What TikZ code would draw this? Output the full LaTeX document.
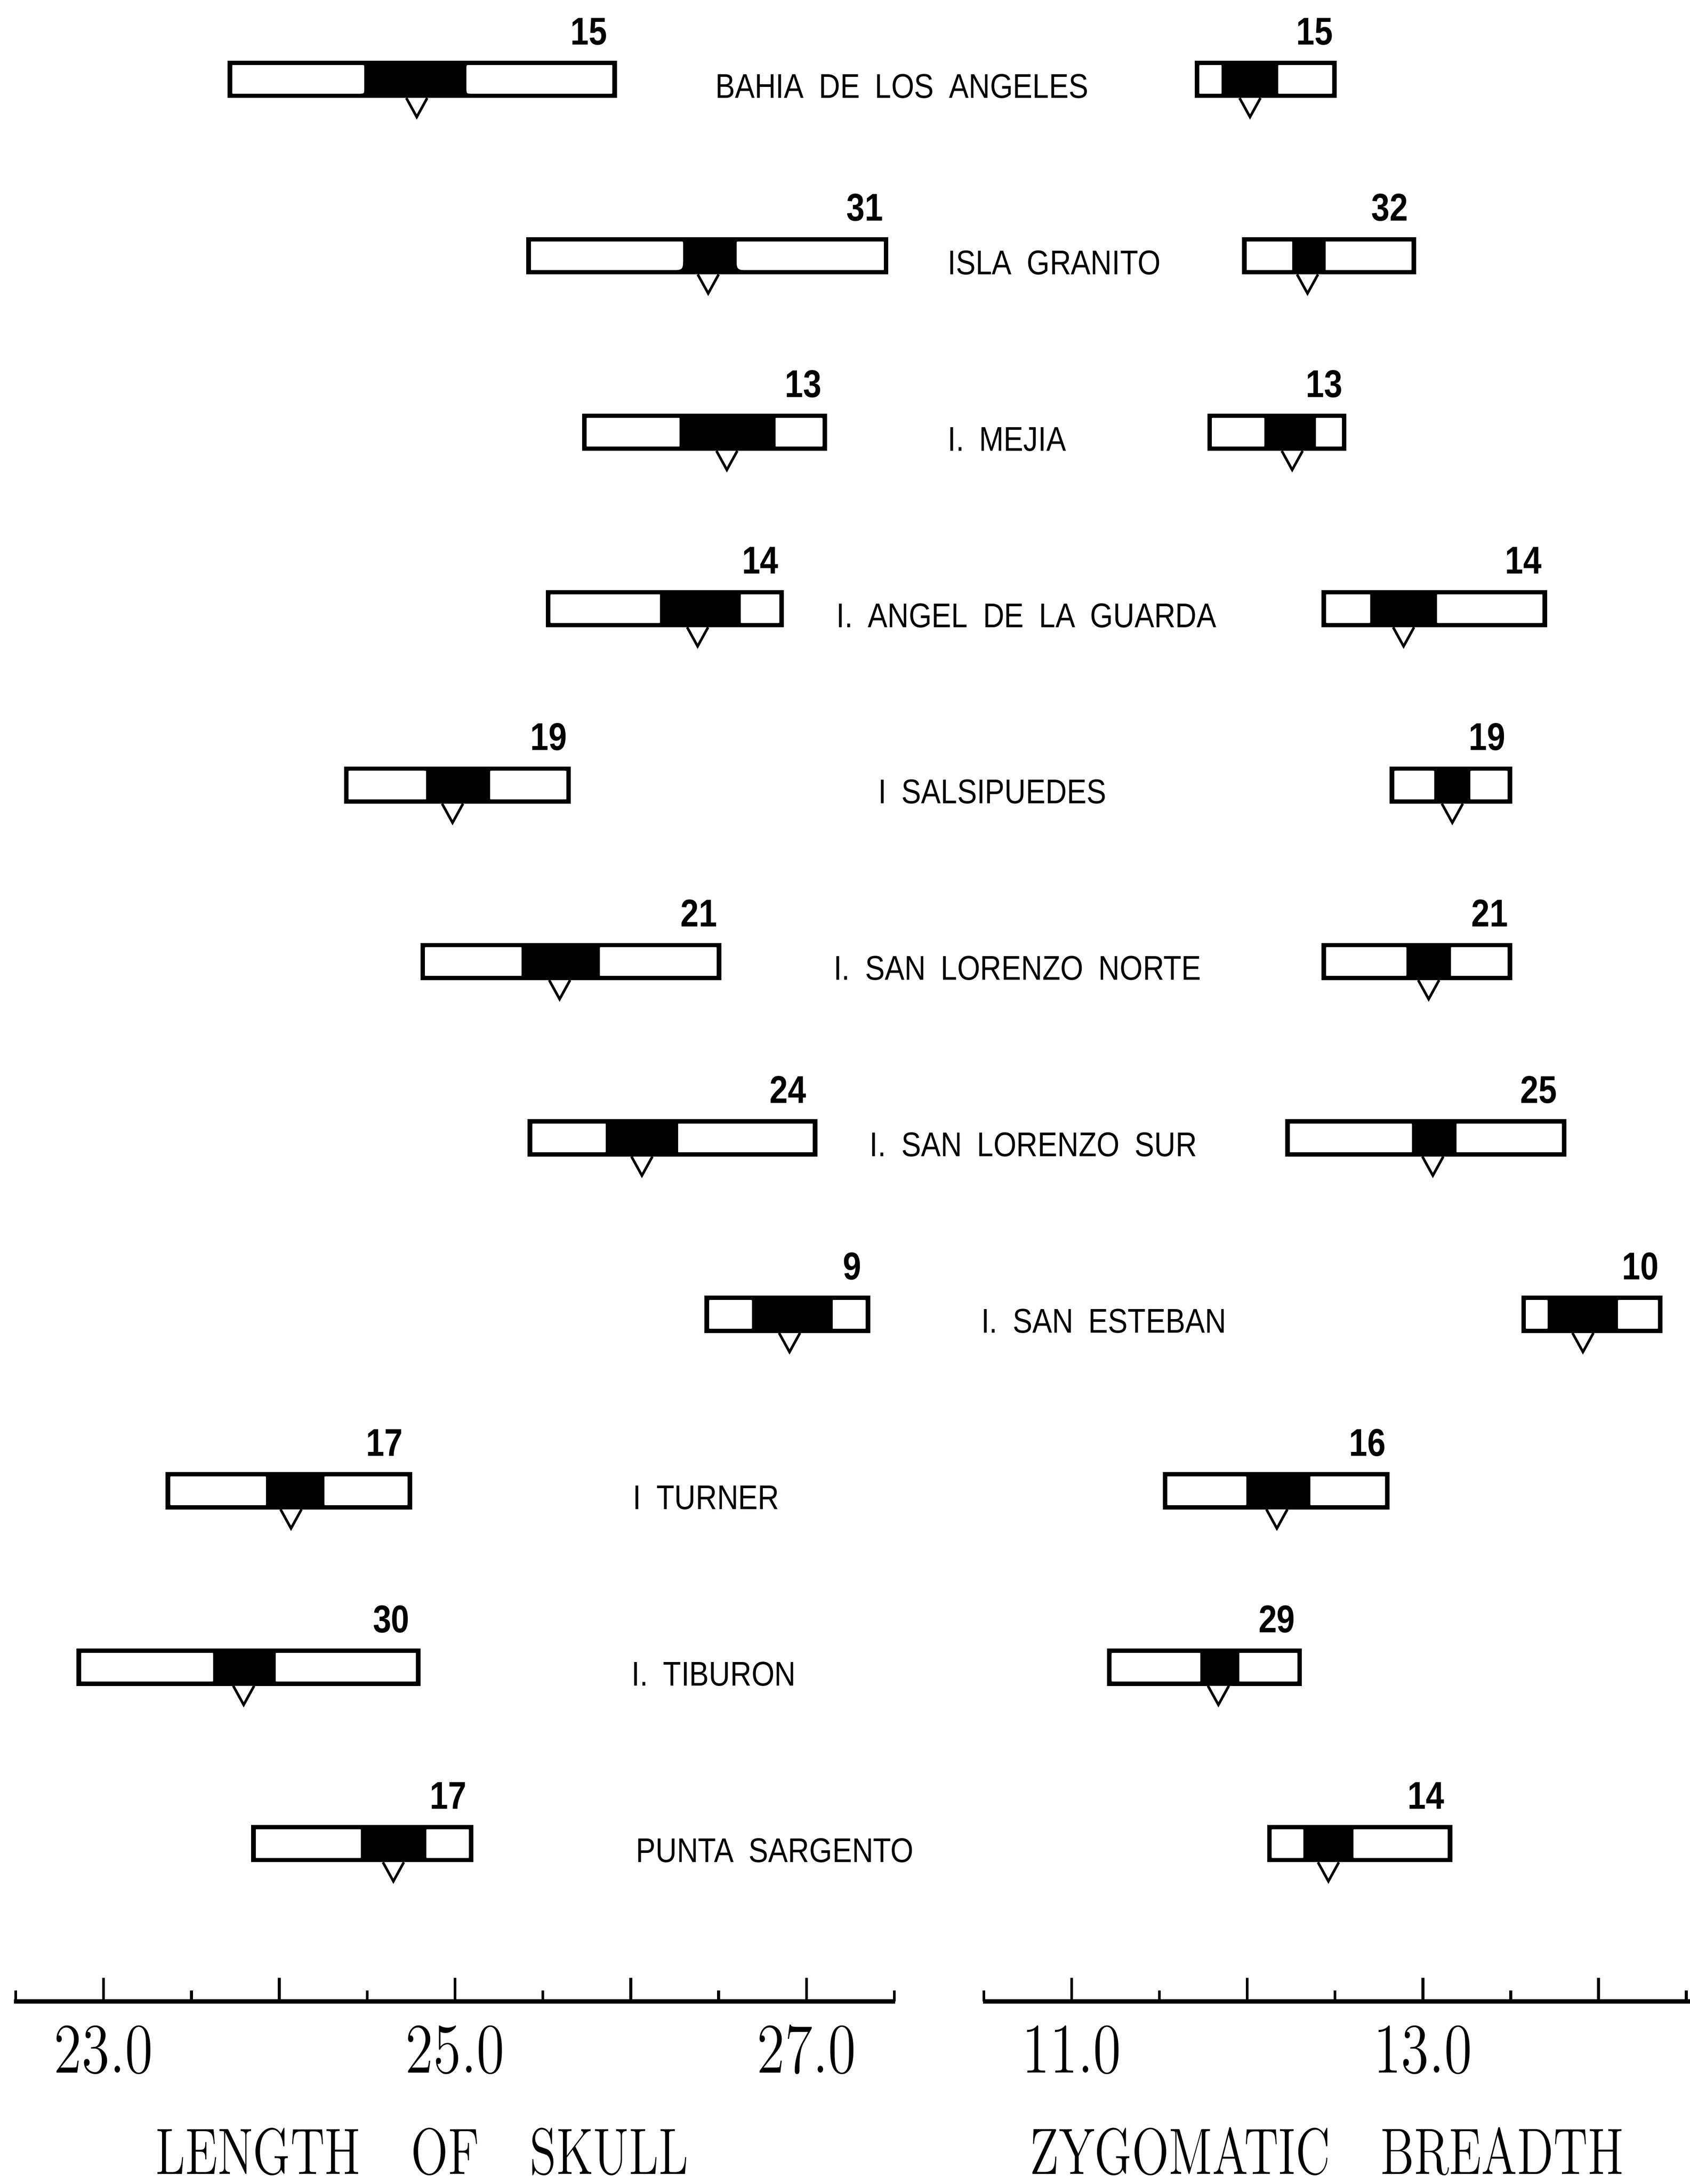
\documentclass[tikz,border=0pt]{standalone}
\usepackage{fontspec}
\usepackage{graphicx}
\newfontfamily\labfont{Liberation Sans}
% white part of a bar: xa xb ytop ybot rTL rTR rBR rBL
\newcommand\wreg[8]{\fill[white] ({#1+#5},{#3}) -- ({#2-#6},{#3}) .. controls ({#2},{#3}) .. ({#2},{#3+#6}) -- ({#2},{#4-#7}) .. controls ({#2},{#4}) .. ({#2-#7},{#4}) -- ({#1+#8},{#4}) .. controls ({#1},{#4}) .. ({#1},{#4-#8}) -- ({#1},{#3+#5}) .. controls ({#1},{#3}) .. ({#1+#5},{#3}) -- cycle;}
% bar: yc L blackL blackR R mean rtop rbot
\newcommand\skbar[8]{%
  \fill ({#2},{#1-13.4}) rectangle ({#5},{#1+13.4});
  \wreg{#2+3.3}{#3}{#1-10.3}{#1+10.3}{1}{#7}{#8}{1}
  \wreg{#4}{#5-3.3}{#1-10.3}{#1+10.3}{#7}{1}{1}{#8}
  \filldraw[fill=white,line width=0.52pt,line join=miter] ({#6-7.5},{#1+13.4}) -- ({#6},{#1+27}) -- ({#6+7.5},{#1+13.4});}
\newcommand\stn[1]{\scalebox{0.86}[1]{\labfont\fontsize{7}{8}\selectfont\spaceskip=3.6pt\relax #1}}
\newcommand\cnt[1]{\scalebox{0.85}[1]{\labfont\bfseries\fontsize{7.9}{9}\selectfont #1}}
\newcommand\axn[1]{\scalebox{0.8}[1]{\fontsize{14.5}{16}\selectfont #1}}
\newcommand\axt[1]{\scalebox{0.74}[1]{\fontsize{13.4}{15}\selectfont\spaceskip=14pt\relax #1}}
\begin{document}
\begin{tikzpicture}[x=0.01cm,y=-0.01cm,
  lab/.style={anchor=base west,inner sep=0pt},
  num/.style={anchor=base,inner sep=0pt},
  axisline/.style={line width=0.85pt},
  tick/.style={line width=0.57pt}]
\useasboundingbox (0,0) rectangle (1213.7,1568.1);
% row 1
\skbar{57}{163.5}{261.6}{335}{443}{299.3}{2}{4}
\skbar{57}{858}{877.3}{918}{960}{897.7}{1}{1}
\node[lab] (s1) at (513,70.35) {\stn{BAHIA DE LOS ANGELES}};
\node[num] (n1a) at (423,32) {\cnt{15}};
\node[num] (n1b) at (944,32) {\cnt{15}};
% row 2
\skbar{183.67}{378}{490.6}{529}{638}{508.6}{2}{9}
\skbar{183.67}{892}{928}{952}{1017}{939}{1}{1}
\node[lab] (s2) at (680,197.02) {\stn{ISLA GRANITO}};
\node[num] (n2a) at (621,158.67) {\cnt{31}};
\node[num] (n2b) at (998,158.67) {\cnt{32}};
% row 3
\skbar{310.34}{418}{488}{557}{594}{522}{1}{1}
\skbar{310.34}{867}{908}{945}{967}{928}{1}{1}
\node[lab] (s3) at (680,323.69) {\stn{I. MEJIA}};
\node[num] (n3a) at (577,285.34) {\cnt{13}};
\node[num] (n3b) at (951,285.34) {\cnt{13}};
% row 4
\skbar{437.01}{392}{474}{532}{563}{501}{1}{1}
\skbar{437.01}{949}{984}{1032}{1111}{1008}{1}{1}
\node[lab] (s4) at (600,450.36) {\stn{I. ANGEL DE LA GUARDA}};
\node[num] (n4a) at (546,412.01) {\cnt{14}};
\node[num] (n4b) at (1094,412.01) {\cnt{14}};
% row 5
\skbar{563.68}{247}{306}{352}{410}{325}{1}{1}
\skbar{563.68}{998}{1030}{1056}{1086}{1043}{1}{1}
\node[lab] (s5) at (630,577.03) {\stn{I SALSIPUEDES}};
\node[num] (n5a) at (394,538.68) {\cnt{19}};
\node[num] (n5b) at (1068,538.68) {\cnt{19}};
% row 6
\skbar{690.35}{301.9}{374.6}{430.8}{518}{401.9}{1}{1}
\skbar{690.35}{949}{1010}{1042}{1086}{1026}{1}{1}
\node[lab] (s6) at (598,703.7) {\stn{I. SAN LORENZO NORTE}};
\node[num] (n6a) at (502,665.35) {\cnt{21}};
\node[num] (n6b) at (1070,665.35) {\cnt{21}};
% row 7
\skbar{817.02}{379}{435}{487}{587}{461}{1}{1}
\skbar{817.02}{923}{1014}{1046}{1125}{1029}{1}{1}
\node[lab] (s7) at (624,830.37) {\stn{I. SAN LORENZO SUR}};
\node[num] (n7a) at (566,792.02) {\cnt{24}};
\node[num] (n7b) at (1105,792.02) {\cnt{25}};
% row 8
\skbar{943.69}{506}{540}{598}{625}{567}{1}{1}
\skbar{943.69}{1092.5}{1111.4}{1162}{1194}{1136.8}{1}{1}
\node[lab] (s8) at (704,957.04) {\stn{I. SAN ESTEBAN}};
\node[num] (n8a) at (612,918.69) {\cnt{9}};
\node[num] (n8b) at (1178,918.69) {\cnt{10}};
% row 9
\skbar{1070.36}{119}{191}{233}{296}{209}{1}{1}
\skbar{1070.36}{835}{895}{941}{998}{917}{1}{1}
\node[lab] (s9) at (454,1083.71) {\stn{I TURNER}};
\node[num] (n9a) at (276,1045.36) {\cnt{17}};
\node[num] (n9b) at (982,1045.36) {\cnt{16}};
% row 10
\skbar{1197.03}{55}{153}{198}{302}{175}{1}{1}
\skbar{1197.03}{795}{862}{890}{935}{875}{1}{1}
\node[lab] (s10) at (453,1210.38) {\stn{I. TIBURON}};
\node[num] (n10a) at (281,1172.03) {\cnt{30}};
\node[num] (n10b) at (917,1172.03) {\cnt{29}};
% row 11
\skbar{1323.7}{180.4}{259.2}{306.2}{340}{282.5}{1}{1}
\skbar{1323.7}{910}{936}{972}{1043}{954}{1}{1}
\node[lab] (s11) at (456,1337.05) {\stn{PUNTA SARGENTO}};
\node[num] (n11a) at (322,1298.7) {\cnt{17}};
\node[num] (n11b) at (1024,1298.7) {\cnt{14}};
% axes
\draw[axisline] (10,1437) -- (642.8,1437);
\foreach \k in {0,...,10}{
  \pgfmathsetmacro\xx{11.3+63.1*\k}
  \pgfmathsetmacro\hh{ifthenelse(mod(\k,2)==1,17,8)}
  \draw[tick] (\xx,1437) -- (\xx,1437-\hh);}
\draw[axisline] (706,1437) -- (1213.7,1437);
\foreach \k in {0,...,8}{
  \pgfmathsetmacro\xx{706.6+63.05*\k}
  \pgfmathsetmacro\hh{ifthenelse(mod(\k,2)==1,17,8)}
  \draw[tick] (\xx,1437) -- (\xx,1437-\hh);}
\node[num] (a23) at (74.4,1488.4) {\axn{23.0}};
\node[num] (a25) at (326.8,1488.4) {\axn{25.0}};
\node[num] (a27) at (579.2,1488.4) {\axn{27.0}};
\node[num] (a11) at (769.65,1488.4) {\axn{11.0}};
\node[num] (a13) at (1021.85,1488.4) {\axn{13.0}};
\node[lab] (tl) at (111,1561) {\axt{LENGTH OF SKULL}};
\node[lab] (tz) at (739,1561) {\axt{ZYGOMATIC BREADTH}};
\end{tikzpicture}
\end{document}
